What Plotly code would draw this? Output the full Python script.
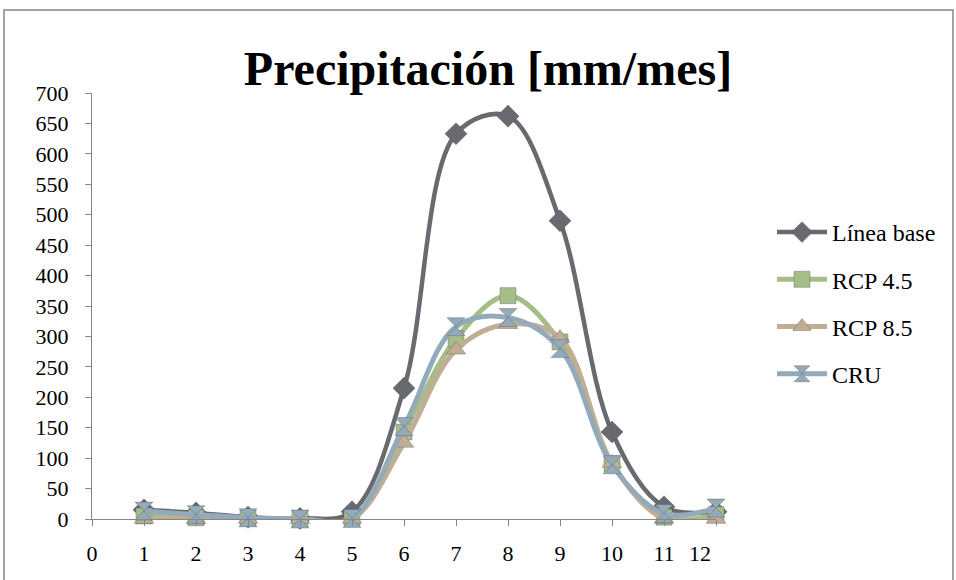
import plotly.graph_objects as go

# Monthly precipitation (mm/month)
months = [1, 2, 3, 4, 5, 6, 7, 8, 9, 10, 11, 12]
linea_base = [15, 10, 3, 1, 12, 215, 633, 662, 490, 143, 20, 12]
rcp45 = [5, 2, 1, 0, 2, 143, 296, 367, 291, 91, 3, 7]
rcp85 = [0, 0, 0, 0, 0, 125, 278, 320, 297, 92, 0, 0]
cru = [13, 7, 2, 0, 1, 152, 316, 331, 280, 89, 9, 18]

x_ticks = [0, 1, 2, 3, 4, 5, 6, 7, 8, 9, 10, 11, 12]
x_ticktext = ["0", "1", "2", "3", "4", "5", "6", "7", "8", "9", "10", "11", ""]
y_ticks = list(range(0, 701, 50))

SERIF = "Liberation Serif"

series = [
    ("Línea base", linea_base, "#696970", "diamond", 17, 4.5),
    ("RCP 4.5", rcp45, "#a7bd88", "square", 16, 5),
    ("RCP 8.5", rcp85, "#c1ad93", "triangle-up", 17, 5),
    ("CRU", cru, "#93aabb", "hourglass", 18, 5),
]

fig = go.Figure()
for name, vals, color, symbol, msize, lw in series:
    fig.add_trace(go.Scatter(
        x=months, y=vals, name=name, legendgroup=name,
        mode="lines+markers",
        line=dict(color=color, width=lw, shape="spline", smoothing=1),
        marker=dict(symbol=symbol, size=msize, color=color,
                    line=dict(color="rgba(80,80,90,0.6)", width=0.6)),
        cliponaxis=False,
    ))

W, H = 956, 580
L, R, T, B = 92, 716, 93, 519

def px_x(p):
    return (p - L) / (R - L)

def px_y(p):
    return (B - p) / (B - T)

fig.update_layout(
    width=W, height=H,
    margin=dict(l=L, r=W - R, t=T, b=H - B),
    paper_bgcolor="white", plot_bgcolor="white",
    font=dict(family=SERIF, color="black", size=22),
    title=dict(text="<b>Precipitación [mm/mes]</b>",
               font=dict(family=SERIF, size=48, color="black"),
               xref="container", yref="container",
               x=488 / W, y=1 - 68 / H, xanchor="center", yanchor="middle"),
    xaxis=dict(range=[0, 12], tickmode="array", tickvals=x_ticks, ticktext=x_ticktext,
               showgrid=False, zeroline=False, showline=True, linecolor="#868686",
               linewidth=1.3, ticks="outside", ticklen=6, tickcolor="#868686",
               tickfont=dict(family=SERIF, size=22), ticklabelstandoff=8),
    yaxis=dict(range=[0, 700], tickmode="array", tickvals=y_ticks,
               showgrid=False, zeroline=False, showline=True, linecolor="#868686",
               linewidth=1.3, ticks="outside", ticklen=6, tickcolor="#868686",
               tickfont=dict(family=SERIF, size=22), ticklabelstandoff=12),
    legend=dict(xref="container", yref="container", x=772 / W, y=1 - 210 / H,
                xanchor="left", yanchor="top", font=dict(family=SERIF, size=24),
                itemwidth=50, tracegroupgap=13, bgcolor="rgba(0,0,0,0)"),
    showlegend=True,
)

# last x label sits slightly inside the axis end
fig.add_annotation(x=11.7, y=0, xref="x", yref="y", text="12", showarrow=False,
                   yshift=-34, font=dict(family=SERIF, size=22, color="black"))

# chart frame
fig.add_shape(type="rect", xref="paper", yref="paper",
              x0=px_x(4), x1=px_x(953), y0=px_y(590), y1=px_y(10),
              line=dict(color="#878787", width=1.5), fillcolor="rgba(0,0,0,0)",
              layer="below")

fig.write_html("out.html")
